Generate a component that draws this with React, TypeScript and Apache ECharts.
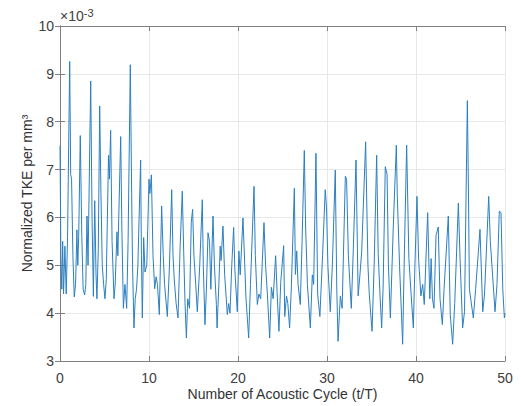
import React, { useEffect, useRef } from "react";
import * as echarts from "echarts";

// time in acoustic cycles (t/T)
const times: number[] = [
  0.0, 0.1, 0.2, 0.3, 0.4, 0.55, 0.7, 0.85, 1.09, 1.2, 1.3, 1.45, 1.6, 1.75, 1.9, 2.0, 2.1, 2.28, 2.45, 2.6,
  2.77, 2.9, 3.03, 3.15, 3.45, 3.6, 3.75, 3.9, 4.05, 4.15, 4.3, 4.46, 4.6, 4.75, 4.9, 5.05, 5.2, 5.45, 5.55, 5.69,
  5.85, 6.07, 6.2, 6.4, 6.5, 6.82, 6.95, 7.12, 7.3, 7.49, 7.65, 7.9, 8.05, 8.15, 8.31, 8.45, 8.6, 8.75, 9.06, 9.15,
  9.25, 9.4, 9.55, 9.75, 10.0, 10.1, 10.27, 10.45, 10.64, 10.8, 10.95, 11.16, 11.42, 11.6, 11.75, 12.06, 12.3, 12.55, 12.7, 12.85,
  13.05, 13.26, 13.5, 13.74, 13.9, 14.05, 14.2, 14.35, 14.55, 14.75, 14.9, 15.05, 15.25, 15.43, 15.7, 15.99, 16.1, 16.29, 16.45, 16.63,
  16.8, 16.95, 17.19, 17.35, 17.57, 17.65, 17.85, 18.0, 18.1, 18.31, 18.5, 18.8, 18.95, 19.1, 19.3, 19.51, 19.65, 19.92, 20.1, 20.25,
  20.56, 20.7, 20.9, 21.2, 21.4, 21.8, 21.95, 22.17, 22.35, 22.55, 22.92, 23.1, 23.3, 23.56, 23.75, 23.95, 24.23, 24.4, 24.6, 24.8,
  25.13, 25.25, 25.45, 25.6, 25.8, 26.0, 26.33, 26.45, 26.6, 26.75, 27.0, 27.2, 27.45, 27.6, 27.8, 28.13, 28.35, 28.5, 28.76, 28.95,
  29.2, 29.5, 29.8, 29.95, 30.1, 30.37, 30.6, 30.93, 31.1, 31.24, 31.5, 31.7, 32.06, 32.2, 32.4, 32.73, 32.95, 33.26, 33.5, 33.7,
  33.9, 34.34, 34.6, 34.75, 35.06, 35.3, 35.58, 35.75, 35.95, 36.14, 36.3, 36.55, 36.75, 36.9, 37.12, 37.45, 37.79, 37.9, 38.15, 38.5,
  38.7, 38.95, 39.2, 39.45, 39.7, 39.85, 40.11, 40.3, 40.55, 40.75, 40.93, 41.31, 41.55, 41.7, 41.85, 42.02, 42.25, 42.5, 42.7, 42.96,
  43.15, 43.63, 43.85, 44.12, 44.35, 44.76, 44.95, 45.24, 45.45, 45.77, 45.9, 46.0, 46.44, 46.7, 47.19, 47.5, 47.7, 48.17, 48.35, 48.88,
  49.1, 49.36, 49.55, 49.75, 49.93, 50.0,
];

// normalized TKE per mm^3, in units of 1e-3
const tke: number[] = [
  7.5, 5.2, 4.5, 5.5, 4.4, 5.4, 4.4, 5.6, 9.26, 6.9, 6.8, 5.2, 4.34, 4.6, 5.74, 5.0, 5.6, 7.71, 5.6, 4.5,
  4.38, 4.6, 6.03, 5.0, 8.85, 6.0, 4.35, 6.35, 4.8, 4.3, 5.3, 8.33, 6.5, 5.0, 4.6, 4.3, 4.7, 7.3, 6.8, 7.82,
  5.5, 4.3, 4.6, 5.7, 5.2, 7.69, 5.8, 4.1, 4.6, 4.1, 5.5, 9.19, 6.5, 5.0, 3.69, 4.3, 4.5, 5.0, 7.2, 5.2,
  3.9, 5.58, 4.86, 5.0, 6.8, 6.5, 6.89, 5.2, 4.51, 4.76, 4.6, 3.97, 6.24, 5.2, 4.6, 3.93, 5.0, 6.58, 5.2, 4.67,
  4.2, 3.9, 5.4, 6.55, 5.27, 4.2, 3.48, 4.3, 4.1, 5.9, 6.17, 5.2, 4.6, 4.03, 5.0, 6.37, 5.0, 3.76, 4.5, 5.68,
  5.5, 4.5, 6.03, 5.0, 4.18, 3.69, 4.6, 5.4, 5.1, 5.82, 4.8, 3.97, 4.2, 4.0, 5.0, 5.79, 4.9, 4.03, 5.3, 4.8,
  5.99, 5.3, 4.3, 3.48, 4.6, 6.65, 5.2, 4.18, 4.4, 4.3, 5.89, 5.0, 4.4, 3.48, 4.54, 4.3, 5.2, 4.4, 3.62, 4.64,
  5.41, 3.93, 4.36, 4.2, 3.69, 4.57, 6.61, 4.81, 5.3, 4.6, 4.18, 5.5, 7.4, 5.8, 4.6, 3.69, 4.8, 4.6, 7.34, 4.4,
  3.93, 5.2, 6.58, 6.2, 5.0, 4.03, 5.0, 6.99, 4.5, 3.41, 4.36, 4.1, 6.86, 6.8, 5.2, 4.1, 5.3, 7.2, 4.36, 4.8,
  5.3, 7.58, 5.0, 4.4, 3.62, 5.0, 7.3, 5.25, 4.4, 3.69, 4.5, 7.06, 6.9, 5.0, 3.9, 5.82, 7.51, 6.45, 5.0, 3.35,
  5.3, 7.51, 5.14, 4.4, 3.69, 4.8, 6.44, 5.1, 4.36, 4.6, 4.18, 6.1, 4.3, 5.14, 4.3, 4.1, 5.62, 5.8, 4.3, 3.76,
  4.5, 6.03, 3.97, 3.35, 4.2, 6.3, 5.14, 3.69, 4.03, 8.44, 6.45, 4.5, 3.9, 4.5, 5.75, 4.03, 4.4, 6.44, 5.5, 4.03,
  4.6, 6.13, 6.1, 4.5, 3.9, 4.0,
];

const xTicks = [0, 10, 20, 30, 40, 50];
const yTicks = [3, 4, 5, 6, 7, 8, 9, 10];

const FONT = "Liberation Sans, Arial, sans-serif";

export default function App() {
  const ref = useRef<HTMLDivElement>(null);
  useEffect(() => {
    if (!ref.current) return;
    const chart = echarts.init(ref.current, null, { renderer: "svg" });
    const data = times.map((t, i) => [t, tke[i]]);
    const axisLine = { show: true, lineStyle: { color: "#808080", width: 1 } };
    const tick = { show: true, inside: true, length: 5, lineStyle: { color: "#808080" } };
    chart.setOption({
      animation: false,
      backgroundColor: "#ffffff",
      grid: { left: 60, right: 16, top: 26, bottom: 41, containLabel: false },
      xAxis: [
        {
          type: "value",
          min: xTicks[0],
          max: xTicks[xTicks.length - 1],
          interval: 10,
          axisLine,
          axisTick: tick,
          splitLine: { show: true, lineStyle: { color: "#e8e8e8" } },
          axisLabel: { color: "#404040", fontSize: 14, fontFamily: FONT, margin: 10 },
          name: "Number of Acoustic Cycle (t/T)",
          nameLocation: "middle",
          nameGap: 26,
          nameMoveOverlap: false,
          nameTextStyle: { color: "#333333", fontSize: 14, fontFamily: FONT, verticalAlign: "top" },
        },
        {
          type: "value",
          position: "top",
          min: xTicks[0],
          max: xTicks[xTicks.length - 1],
          interval: 10,
          axisLine,
          axisTick: tick,
          splitLine: { show: false },
          axisLabel: { show: false },
        },
      ],
      yAxis: [
        {
          type: "value",
          min: yTicks[0],
          max: yTicks[yTicks.length - 1],
          interval: 1,
          axisLine,
          axisTick: tick,
          splitLine: { show: true, lineStyle: { color: "#e8e8e8" } },
          axisLabel: { color: "#404040", fontSize: 14, fontFamily: FONT, margin: 6 },
          name: "Normalized TKE per mm\u00B3",
          nameLocation: "middle",
          nameGap: 26,
          nameMoveOverlap: false,
          nameTextStyle: { color: "#333333", fontSize: 14, fontFamily: FONT, verticalAlign: "bottom" },
        },
        {
          type: "value",
          position: "right",
          min: yTicks[0],
          max: yTicks[yTicks.length - 1],
          interval: 1,
          axisLine,
          axisTick: tick,
          splitLine: { show: false },
          axisLabel: { show: false },
        },
      ],
      graphic: [
        {
          type: "text",
          left: 60,
          top: 7,
          style: {
            text: "\u00D710{s|-3}",
            fill: "#404040",
            font: `14px ${FONT}`,
            rich: { s: { fontSize: 11, fill: "#404040", fontFamily: FONT, padding: [0, 0, 7, 0] } },
          },
        },
      ],
      series: [
        {
          type: "line",
          data,
          xAxisIndex: 0,
          yAxisIndex: 0,
          showSymbol: false,
          symbol: "none",
          lineStyle: { color: "#2b7fc0", width: 1 },
        },
      ],
    });
    return () => chart.dispose();
  }, []);
  return (
    <div
      ref={ref}
      style={{ position: "fixed", left: 0, top: 0, width: 521, height: 406 }}
    />
  );
}
